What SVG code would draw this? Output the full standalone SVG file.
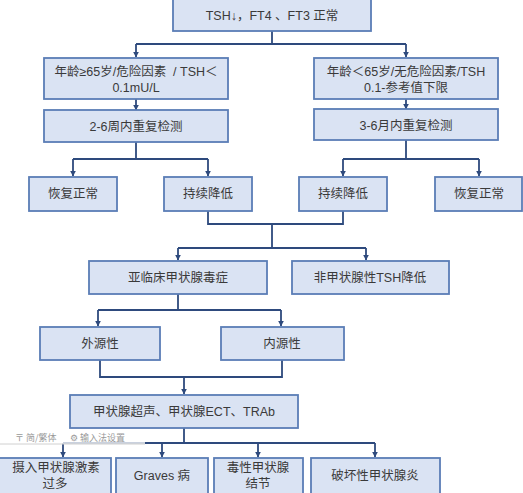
<svg xmlns="http://www.w3.org/2000/svg" width="523" height="493" viewBox="0 0 523 493">
<defs>
<marker id="arr" viewBox="0 0 10 10" refX="9" refY="5" markerWidth="6" markerHeight="6" markerUnits="userSpaceOnUse" orient="auto">
<path d="M0,0 L10,5 L0,10 z" fill="#2e4a7d"/>
</marker>
<style>
.box{fill:#dae3f3;stroke:#5a7db6;stroke-width:1.8}
.t{font-family:"Liberation Sans","Noto Sans CJK SC",sans-serif;font-size:12.5px;fill:#3a3a3a;text-anchor:middle}
.c{fill:none;stroke:#2e4a7d;stroke-width:1.8}
.a{marker-end:url(#arr)}
.ime{font-family:"Noto Sans CJK SC",sans-serif;font-size:9px;fill:#999999}
</style>
</defs>
<rect width="523" height="493" fill="#ffffff"/>
<g id="connectors">
<path class="c" d="M272,31 V44 M136,44 H406"/>
<path class="c a" d="M136,44 V57"/>
<path class="c a" d="M406,44 V57"/>
<path class="c a" d="M136,99 V110"/>
<path class="c a" d="M406,99 V109"/>
<path class="c" d="M136,142 V159 M73,159 H208 M406,140 V159 M343,159 H479"/>
<path class="c a" d="M73,159 V176"/>
<path class="c a" d="M208,159 V176"/>
<path class="c a" d="M343,159 V176"/>
<path class="c a" d="M479,159 V176"/>
<path class="c" d="M208,211 V224 H343 V211 M272,224 V248 M178,248 H366"/>
<path class="c a" d="M178,248 V260"/>
<path class="c a" d="M366,248 V260"/>
<path class="c" d="M178,294 V310 M98,310 H281"/>
<path class="c a" d="M98,310 V326"/>
<path class="c a" d="M281,310 V326"/>
<path class="c" d="M100,360 V377 H282 V360"/>
<path class="c a" d="M184,377 V394"/>
<path class="c" d="M184,428 V443 M63,443 H375"/>
<path class="c a" d="M63,443 V457"/>
<path class="c a" d="M162,443 V457"/>
<path class="c a" d="M258,443 V457"/>
<path class="c a" d="M375,443 V457"/>
</g>
<g id="n1"><rect class="box" x="173" y="-1" width="198" height="32"/><text class="t" x="272" y="20">TSH↓，FT4 、FT3 正常</text></g>
<g id="n2"><rect class="box" x="44" y="58" width="184" height="41"/><text class="t" x="136" y="76">年龄≥65岁/危险因素&#160;&#160;/ TSH＜</text><text class="t" x="136" y="92">0.1mU/L</text></g>
<g id="n3"><rect class="box" x="314" y="58" width="184" height="41"/><text class="t" x="406" y="76">年龄＜65岁/无危险因素/TSH</text><text class="t" x="406" y="92">0.1-参考值下限</text></g>
<g id="n4"><rect class="box" x="44" y="110" width="184" height="32"/><text class="t" x="136" y="131">2-6周内重复检测</text></g>
<g id="n5"><rect class="box" x="314" y="109" width="184" height="31"/><text class="t" x="406" y="130">3-6月内重复检测</text></g>
<g id="n6"><rect class="box" x="29" y="177" width="88" height="34"/><text class="t" x="73" y="198">恢复正常</text></g>
<g id="n7"><rect class="box" x="164" y="177" width="88" height="34"/><text class="t" x="208" y="198">持续降低</text></g>
<g id="n8"><rect class="box" x="299" y="177" width="88" height="34"/><text class="t" x="343" y="198">持续降低</text></g>
<g id="n9"><rect class="box" x="435" y="177" width="87" height="34"/><text class="t" x="479" y="198">恢复正常</text></g>
<g id="n10"><rect class="box" x="89" y="261" width="178" height="33"/><text class="t" x="178" y="282">亚临床甲状腺毒症</text></g>
<g id="n11"><rect class="box" x="292" y="261" width="157" height="33"/><text class="t" x="370" y="282">非甲状腺性TSH降低</text></g>
<g id="n12"><rect class="box" x="40" y="327" width="120" height="33"/><text class="t" x="100" y="348">外源性</text></g>
<g id="n13"><rect class="box" x="221" y="327" width="123" height="33"/><text class="t" x="282" y="348">内源性</text></g>
<g id="n14"><rect class="box" x="70" y="395" width="228" height="33"/><text class="t" x="184" y="416">甲状腺超声、甲状腺ECT、TRAb</text></g>
<g id="n15"><rect class="box" x="-2" y="458" width="113" height="36"/><text class="t" x="56" y="472">摄入甲状腺激素</text><text class="t" x="55" y="488">过多</text></g>
<g id="n16"><rect class="box" x="116" y="458" width="92" height="36"/><text class="t" x="162" y="480">Graves 病</text></g>
<g id="n17"><rect class="box" x="214" y="458" width="89" height="36"/><text class="t" x="258" y="472">毒性甲状腺</text><text class="t" x="258" y="488">结节</text></g>
<g id="n18"><rect class="box" x="311" y="458" width="129" height="36"/><text class="t" x="375" y="480">破坏性甲状腺炎</text></g>
<g id="ime">
<rect x="0" y="430" width="145" height="14" fill="#ffffff" fill-opacity="0.75"/>
<line x1="0" y1="444" x2="145" y2="444" stroke="#d0d0d0" stroke-width="1"/>
<text class="ime" x="15" y="441">〒 简/繁体</text>
<text class="ime" x="70" y="441">⚙ 输入法设置</text>
</g>
</svg>
